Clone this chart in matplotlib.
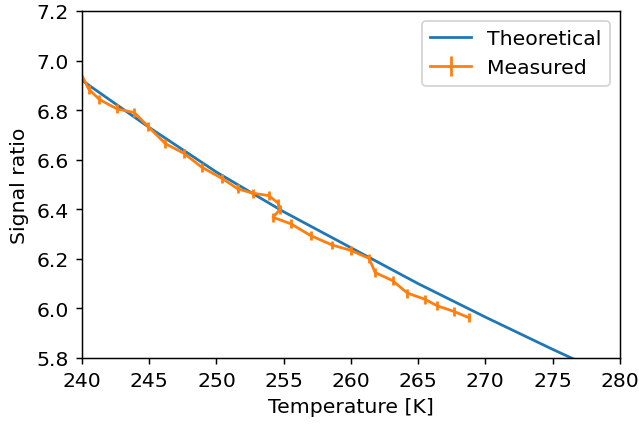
import numpy as np
import matplotlib
matplotlib.use("Agg")
import matplotlib.pyplot as plt

plt.rcParams['font.size'] = 11

# theoretical curve
temp_theory = [238, 240, 245, 250, 255, 260, 265, 270, 275, 280]
ratio_theory = [6.995, 6.92, 6.73, 6.55, 6.39, 6.245, 6.10, 5.965, 5.835, 5.71]

# measured points
temp_meas = [239.9, 240.5, 241.3, 242.6, 243.9, 244.9, 246.2, 247.6, 248.9, 250.4,
             251.6, 252.7, 253.9, 254.6, 254.75, 254.2, 255.55, 257.0, 258.6, 260.0,
             261.35, 261.8, 263.1, 264.2, 265.5, 266.4, 267.7, 268.8]
ratio_meas = [6.95, 6.885, 6.843, 6.805, 6.79, 6.735, 6.665, 6.625, 6.57, 6.525,
              6.482, 6.465, 6.455, 6.424, 6.40, 6.368, 6.341, 6.294, 6.256, 6.234,
              6.202, 6.145, 6.112, 6.062, 6.037, 6.011, 5.987, 5.962]
ratio_err = 0.018

fig = plt.figure(figsize=(6.39 / 1.33, 4.25 / 1.33), dpi=133)
ax = fig.add_axes([0.1283, 0.1553, 0.8417, 0.8165])

ax.plot(temp_theory, ratio_theory, color='C0', label='Theoretical')
ax.errorbar(temp_meas, ratio_meas, yerr=ratio_err, color='C1', label='Measured')

ax.set_xlim(240, 280)
ax.set_ylim(5.8, 7.2)
ax.set_xlabel('Temperature [K]')
ax.set_ylabel('Signal ratio')
ax.legend(loc='upper right')

fig.savefig('out.png', dpi=133)
